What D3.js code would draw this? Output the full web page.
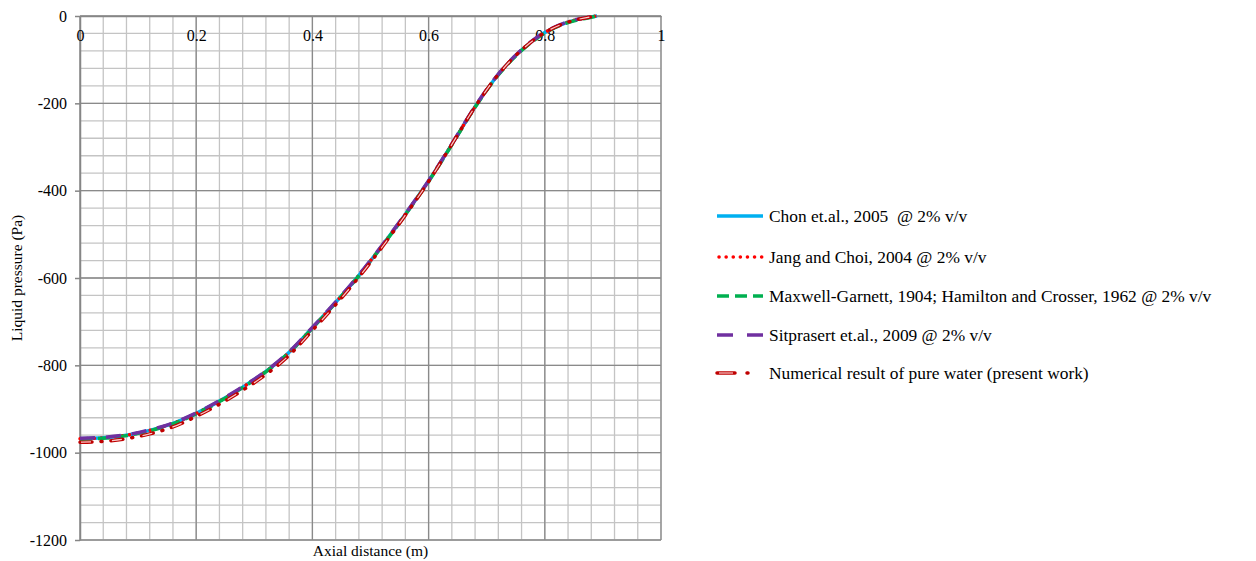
<!DOCTYPE html>
<html>
<head>
<meta charset="utf-8">
<script src="https://cdn.jsdelivr.net/npm/d3@7"></script>
<style>
  html, body { margin: 0; padding: 0; background: #fff; }
  svg { display: block; font-family: "Liberation Serif", "Times New Roman", serif; }
</style>
</head>
<body>
<svg id="chart" width="1256" height="561"></svg>
<script>
// Axial positions (m)
const axialX = [0, 0.04, 0.08, 0.12, 0.16, 0.2, 0.24, 0.28, 0.32, 0.36, 0.4, 0.44, 0.48, 0.52, 0.56, 0.6, 0.64, 0.68, 0.72, 0.76, 0.8, 0.84, 0.88, 0.89];

// Liquid pressure (Pa) for each model at 2% v/v
const chon2005      = [-968, -966, -960, -949, -933, -910, -882, -850, -814, -770, -714, -656, -594, -526, -454, -378, -294, -208, -134, -78, -38, -14, -2, 0];
const jangChoi2004  = [-968, -966, -960, -949, -933, -910, -882, -850, -814, -770, -714, -656, -594, -526, -454, -378, -294, -208, -134, -78, -38, -14, -2, 0];
const maxwellHC     = [-969, -967, -961, -950, -934, -911, -883, -851, -815, -771, -715, -657, -595, -527, -455, -379, -295, -209, -135, -79, -39, -15, -3, 0];
const sitprasert09  = [-967, -965, -959, -948, -932, -909, -881, -849, -813, -769, -713, -655, -593, -525, -453, -377, -293, -207, -133, -77, -37, -13, -2, 0];
// Pure water, present work
const pureWater     = [-976, -974, -968, -957, -941, -917, -889, -857, -821, -777, -720, -661, -598, -529, -456, -379, -294, -208, -134, -78, -38, -14, -2, 0];

const xTicks = [0, 0.2, 0.4, 0.6, 0.8, 1];
const yTicks = [0, -200, -400, -600, -800, -1000, -1200];
const xTickLabels = ["0", "0.2", "0.4", "0.6", "0.8", "1"];
const yTickLabels = ["0", "-200", "-400", "-600", "-800", "-1000", "-1200"];

const seriesNames = [
  "Chon et.al., 2005  @ 2% v/v",
  "Jang and Choi, 2004 @ 2% v/v",
  "Maxwell-Garnett, 1904; Hamilton and Crosser, 1962 @ 2% v/v",
  "Sitprasert et.al., 2009 @ 2% v/v",
  "Numerical result of pure water (present work)"
];

const svg = d3.select("#chart");
const plot = { left: 80, right: 661, top: 16, bottom: 540 };

const x = d3.scaleLinear().domain([0, 1]).range([plot.left, plot.right]);
const y = d3.scaleLinear().domain([0, -1200]).range([plot.top, plot.bottom]);

// Grid: minor every 0.04 m / 40 Pa, major every 0.2 m / 200 Pa
const gridG = svg.append("g");
gridG.selectAll("line.vminor").data(d3.range(0, 1.0001, 0.04)).join("line")
  .attr("x1", d => x(d)).attr("x2", d => x(d))
  .attr("y1", plot.top).attr("y2", plot.bottom)
  .attr("stroke", "#c4c4c4").attr("stroke-width", 1.3);
gridG.selectAll("line.hminor").data(d3.range(0, -1200.001, -40)).join("line")
  .attr("y1", d => y(d)).attr("y2", d => y(d))
  .attr("x1", plot.left).attr("x2", plot.right)
  .attr("stroke", "#c4c4c4").attr("stroke-width", 1.3);
gridG.selectAll("line.vmajor").data(xTicks).join("line")
  .attr("x1", d => x(d)).attr("x2", d => x(d))
  .attr("y1", plot.top).attr("y2", plot.bottom)
  .attr("stroke", "#8a8a8a").attr("stroke-width", 1.3);
gridG.selectAll("line.hmajor").data(yTicks).join("line")
  .attr("y1", d => y(d)).attr("y2", d => y(d))
  .attr("x1", plot.left).attr("x2", plot.right)
  .attr("stroke", "#8a8a8a").attr("stroke-width", 1.3);

// Y axis on the left
const yAxis = d3.axisLeft(y).tickValues(yTicks)
  .tickFormat((d, i) => yTickLabels[i]).tickSizeInner(5).tickSizeOuter(0).tickPadding(8);
const yG = svg.append("g").attr("transform", `translate(${plot.left},0)`).call(yAxis);
yG.select(".domain").attr("stroke", "#868686").attr("stroke-width", 1.5);
yG.selectAll(".tick line").attr("stroke", "#868686").attr("stroke-width", 1.5);
yG.selectAll(".tick text").attr("font-size", 16).attr("fill", "#000")
  .attr("font-family", "Liberation Serif, serif");

// X axis crossing at 0 Pa (top edge), labels inside the plot
const xAxis = d3.axisBottom(x).tickValues(xTicks)
  .tickFormat((d, i) => xTickLabels[i]).tickSize(0).tickPadding(14);
const xG = svg.append("g").attr("transform", `translate(0,${y(0)})`).call(xAxis);
xG.select(".domain").attr("stroke", "#868686").attr("stroke-width", 1.5);
xG.selectAll(".tick text").attr("font-size", 16).attr("fill", "#000")
  .attr("font-family", "Liberation Serif, serif");

// Axis titles
svg.append("text")
  .attr("x", (plot.left + plot.right) / 2).attr("y", 556)
  .attr("text-anchor", "middle").attr("font-size", 15.5).attr("fill", "#000")
  .text("Axial distance (m)");
svg.append("text")
  .attr("transform", `translate(22,${(plot.top + plot.bottom) / 2}) rotate(-90)`)
  .attr("text-anchor", "middle").attr("font-size", 15.5).attr("fill", "#000")
  .text("Liquid pressure (Pa)");

// Series styles
const styles = [
  { color: "#00b0f0", dash: null, cap: "butt", width: 3.5 },
  { color: "#ff0000", dash: "0.1 7", cap: "round", width: 3.5 },
  { color: "#00b050", dash: "12 6", cap: "butt", width: 3.5 },
  { color: "#7030a0", dash: "15 11", cap: "butt", width: 3.5 },
  { color: "#c00000", dash: "12 9 1 9", cap: "round", width: 3.5, inner: "#f6c9c9" }
];
const allSeries = [chon2005, jangChoi2004, maxwellHC, sitprasert09, pureWater];

const line = d3.line()
  .x(d => x(d[0])).y(d => y(d[1]))
  .curve(d3.curveMonotoneX);

const linesG = svg.append("g");
allSeries.forEach((vals, i) => {
  const pts = axialX.map((xv, k) => [xv, vals[k]]);
  const s = styles[i];
  linesG.append("path").datum(pts)
    .attr("d", line).attr("fill", "none")
    .attr("stroke", s.color).attr("stroke-width", s.width)
    .attr("stroke-linecap", s.cap)
    .attr("stroke-dasharray", s.dash);
  if (s.inner) {
    linesG.append("path").datum(pts)
      .attr("d", line).attr("fill", "none")
      .attr("stroke", s.inner).attr("stroke-width", 1.2)
      .attr("stroke-dasharray", "10 21").attr("stroke-dashoffset", -1);
  }
});

// Legend
const legendRows = [216, 257, 296, 335, 373];
const legG = svg.append("g");
seriesNames.forEach((name, i) => {
  const s = styles[i];
  const ly = legendRows[i];
  const dash = i === 3 ? "16 14" : (i === 4 ? "18 12 1 20" : s.dash);
  legG.append("line")
    .attr("x1", i === 1 ? 719 : 717).attr("x2", 763).attr("y1", ly).attr("y2", ly)
    .attr("stroke", s.color).attr("stroke-width", s.width)
    .attr("stroke-linecap", s.cap).attr("stroke-dasharray", dash);
  if (s.inner) {
    legG.append("line")
      .attr("x1", 719).attr("x2", 733).attr("y1", ly).attr("y2", ly)
      .attr("stroke", s.inner).attr("stroke-width", 1.2);
  }
  legG.append("text")
    .attr("x", 769).attr("y", ly + 6)
    .attr("font-size", 17.4).attr("fill", "#000")
    .attr("xml:space", "preserve").style("white-space", "pre")
    .text(name);
});
</script>
</body>
</html>
